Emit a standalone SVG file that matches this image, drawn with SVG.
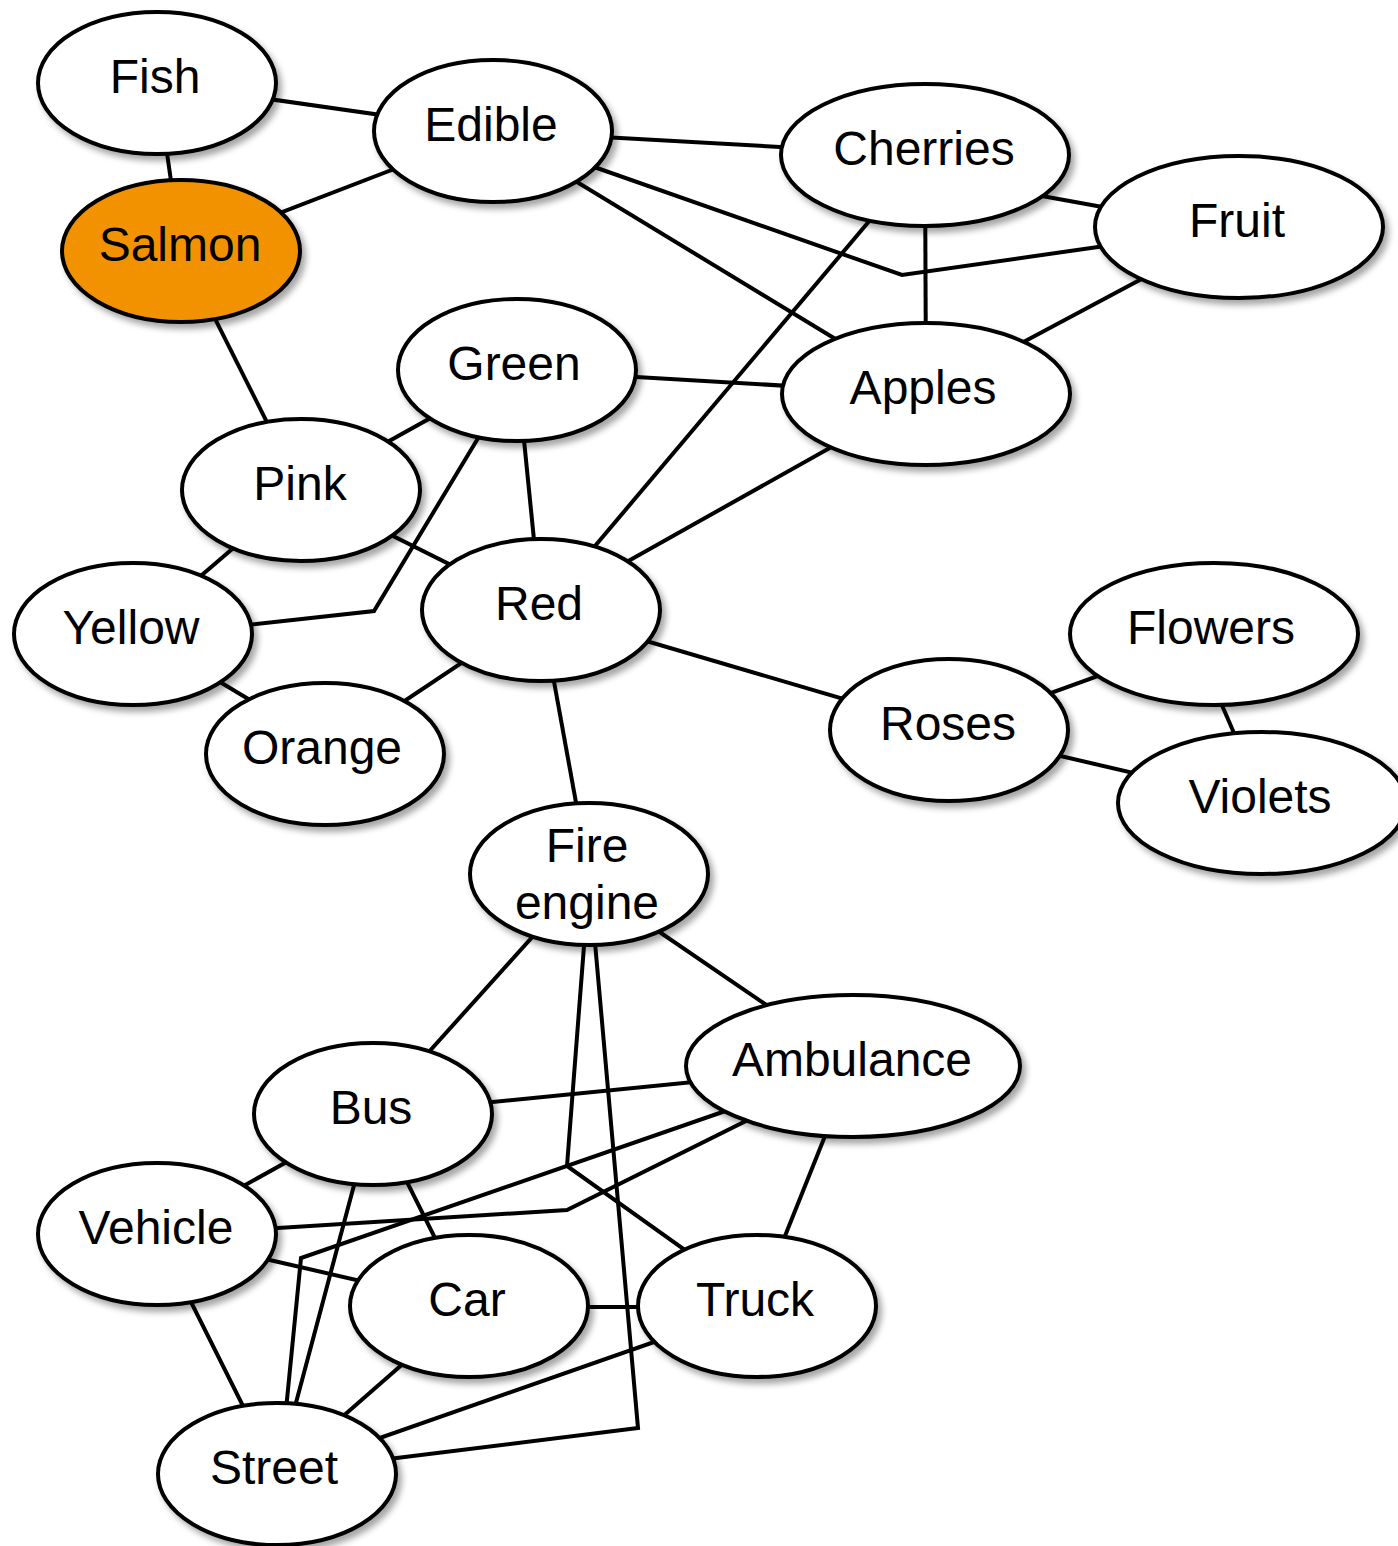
<svg xmlns="http://www.w3.org/2000/svg" width="1398" height="1546" viewBox="0 0 1398 1546">
  <defs>
    <filter id="shadow" x="-20%" y="-20%" width="140%" height="150%">
      <feDropShadow dx="4" dy="5" stdDeviation="3" flood-color="#000" flood-opacity="0.35"/>
    </filter>
  </defs>
  <style>
    .edge { fill: none; stroke: #000; stroke-width: 4; stroke-linejoin: miter; }
    .node ellipse { fill: #fff; stroke: #000; stroke-width: 4; filter: url(#shadow); }
    .node.hl ellipse { fill: #f39200; }
    .node text { font-family: "Liberation Sans", Arial, Helvetica, sans-serif; font-size: 48px; fill: #000; text-anchor: middle; }
  </style>

  <!-- connectors, drawn first so the nodes cover their ends -->
  <g id="connectors">
    <line class="edge" x1="157" y1="83" x2="493" y2="131"/>
    <line class="edge" x1="157" y1="83" x2="181" y2="251"/>
    <line class="edge" x1="493" y1="131" x2="181" y2="251"/>
    <line class="edge" x1="493" y1="131" x2="925" y2="155"/>
    <polyline class="edge" points="560,155 902,275 1140,241"/>
    <line class="edge" x1="493" y1="131" x2="926" y2="394"/>
    <line class="edge" x1="1020" y1="192" x2="1130" y2="212"/>
    <line class="edge" x1="925" y1="155" x2="926" y2="394"/>
    <line class="edge" x1="925" y1="155" x2="541" y2="610"/>
    <line class="edge" x1="1239" y1="227" x2="926" y2="394"/>
    <line class="edge" x1="517" y1="370" x2="926" y2="394"/>
    <line class="edge" x1="926" y1="394" x2="541" y2="610"/>
    <line class="edge" x1="181" y1="251" x2="301" y2="490"/>
    <line class="edge" x1="517" y1="370" x2="301" y2="490"/>
    <polyline class="edge" points="495,410 374,611 220,628"/>
    <line class="edge" x1="301" y1="490" x2="133" y2="634"/>
    <line class="edge" x1="301" y1="490" x2="541" y2="610"/>
    <line class="edge" x1="517" y1="370" x2="541" y2="610"/>
    <line class="edge" x1="200" y1="670" x2="275" y2="715"/>
    <line class="edge" x1="541" y1="610" x2="325" y2="754"/>
    <line class="edge" x1="541" y1="610" x2="949" y2="730"/>
    <line class="edge" x1="541" y1="610" x2="589" y2="874"/>
    <line class="edge" x1="949" y1="730" x2="1214" y2="634"/>
    <line class="edge" x1="949" y1="730" x2="1262" y2="803"/>
    <line class="edge" x1="1215" y1="689" x2="1243" y2="754"/>
    <line class="edge" x1="589" y1="874" x2="373" y2="1114"/>
    <line class="edge" x1="620" y1="905" x2="800" y2="1028"/>
    <polyline class="edge" points="586,920 567,1166 720,1275"/>
    <polyline class="edge" points="593,920 638,1428 340,1465"/>
    <line class="edge" x1="373" y1="1114" x2="853" y2="1066"/>
    <polyline class="edge" points="760,1099 301,1258 283,1440"/>
    <polyline class="edge" points="780,1104 567,1210 230,1231"/>
    <line class="edge" x1="853" y1="1066" x2="757" y2="1306"/>
    <line class="edge" x1="373" y1="1114" x2="157" y2="1234"/>
    <line class="edge" x1="373" y1="1114" x2="469" y2="1306"/>
    <line class="edge" x1="373" y1="1114" x2="277" y2="1474"/>
    <line class="edge" x1="157" y1="1234" x2="469" y2="1306"/>
    <line class="edge" x1="157" y1="1234" x2="277" y2="1474"/>
    <line class="edge" x1="469" y1="1307" x2="757" y2="1307"/>
    <line class="edge" x1="469" y1="1306" x2="277" y2="1474"/>
    <line class="edge" x1="757" y1="1306" x2="277" y2="1474"/>
  </g>

  <!-- nodes -->
  <g id="fish" class="node"><ellipse cx="157" cy="83" rx="119" ry="71"/><text x="155" y="93">Fish</text></g>
  <g id="edible" class="node"><ellipse cx="493" cy="131" rx="119" ry="71"/><text x="491" y="141">Edible</text></g>
  <g id="cherries" class="node"><ellipse cx="925" cy="155" rx="144" ry="71"/><text x="924" y="165">Cherries</text></g>
  <g id="fruit" class="node"><ellipse cx="1239" cy="227" rx="144" ry="71"/><text x="1237" y="237">Fruit</text></g>
  <g id="salmon" class="node hl"><ellipse cx="181" cy="251" rx="119" ry="71"/><text x="180" y="261">Salmon</text></g>
  <g id="green" class="node"><ellipse cx="517" cy="370" rx="119" ry="71"/><text x="514" y="380">Green</text></g>
  <g id="apples" class="node"><ellipse cx="926" cy="394" rx="144" ry="71"/><text x="923" y="404">Apples</text></g>
  <g id="pink" class="node"><ellipse cx="301" cy="490" rx="119" ry="71"/><text x="300" y="500">Pink</text></g>
  <g id="yellow" class="node"><ellipse cx="133" cy="634" rx="119" ry="71"/><text x="131" y="644">Yellow</text></g>
  <g id="red" class="node"><ellipse cx="541" cy="610" rx="119" ry="71"/><text x="539" y="620">Red</text></g>
  <g id="orange" class="node"><ellipse cx="325" cy="754" rx="119" ry="71"/><text x="322" y="764">Orange</text></g>
  <g id="flowers" class="node"><ellipse cx="1214" cy="634" rx="144" ry="71"/><text x="1211" y="644">Flowers</text></g>
  <g id="roses" class="node"><ellipse cx="949" cy="730" rx="119" ry="71"/><text x="948" y="740">Roses</text></g>
  <g id="violets" class="node"><ellipse cx="1262" cy="803" rx="144" ry="71"/><text x="1260" y="813">Violets</text></g>
  <g id="fire-engine" class="node"><ellipse cx="589" cy="874" rx="119" ry="71"/><text x="587" y="862">Fire</text><text x="587" y="919">engine</text></g>
  <g id="ambulance" class="node"><ellipse cx="853" cy="1066" rx="167" ry="71"/><text x="852" y="1076">Ambulance</text></g>
  <g id="bus" class="node"><ellipse cx="373" cy="1114" rx="119" ry="71"/><text x="371" y="1124">Bus</text></g>
  <g id="vehicle" class="node"><ellipse cx="157" cy="1234" rx="119" ry="71"/><text x="156" y="1244">Vehicle</text></g>
  <g id="car" class="node"><ellipse cx="469" cy="1306" rx="119" ry="71"/><text x="467" y="1316">Car</text></g>
  <g id="truck" class="node"><ellipse cx="757" cy="1306" rx="119" ry="71"/><text x="755" y="1316">Truck</text></g>
  <g id="street" class="node"><ellipse cx="277" cy="1474" rx="119" ry="71"/><text x="274" y="1484">Street</text></g>
</svg>
